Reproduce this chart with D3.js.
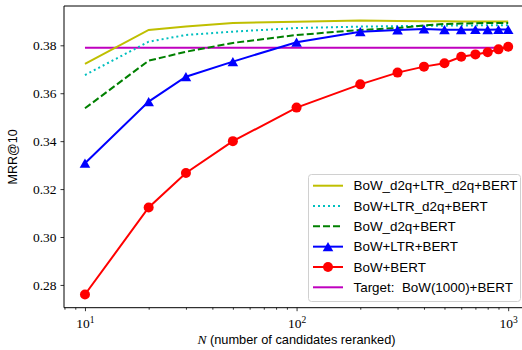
<!DOCTYPE html>
<html>
<head>
<meta charset="utf-8">
<script src="https://cdn.jsdelivr.net/npm/d3@7"></script>
<style>
  html, body { margin: 0; padding: 0; background: #fff; }
  svg { display: block; }
  .tick text { font-family: "Liberation Serif", serif; font-size: 13.5px; fill: #000; }
  .legend text { font-family: "Liberation Sans", sans-serif; font-size: 13.4px; white-space: pre; }
</style>
</head>
<body>
<svg id="svg" width="522" height="350"></svg>
<script>
const width = 522;
const height = 350;

// Data
const candidates = [10, 20, 30, 50, 100, 200, 300, 400, 500, 600, 700, 800, 900, 1000];
const bowD2qLtrD2q = [0.3722, 0.3864, 0.3878, 0.3893, 0.3898, 0.3903, 0.3901, 0.3900, 0.3900, 0.3899, 0.3899, 0.3899, 0.3899, 0.3899];
const bowLtrD2q = [0.3676, 0.3815, 0.3843, 0.3857, 0.3872, 0.3878, 0.3880, 0.3881, 0.3882, 0.3883, 0.3883, 0.3884, 0.3884, 0.3884];
const bowD2q = [0.3537, 0.3736, 0.3773, 0.3810, 0.3843, 0.3864, 0.3872, 0.3883, 0.3889, 0.3891, 0.3892, 0.3893, 0.3893, 0.3893];
const bowLtr = [0.3308, 0.3565, 0.3669, 0.3732, 0.3813, 0.3857, 0.3864, 0.3868, 0.3865, 0.3865, 0.3866, 0.3865, 0.3866, 0.3866];
const bow = [0.2760, 0.3123, 0.3267, 0.3400, 0.3540, 0.3637, 0.3686, 0.3711, 0.3725, 0.3752, 0.3762, 0.3771, 0.3783, 0.3794];
const target = 0.3790;
const targetRange = [10, 1000];

const yTicks = [0.28, 0.30, 0.32, 0.34, 0.36, 0.38];
const xTicks = [10, 100, 1000];

const series = [
  { label: 'BoW_d2q+LTR_d2q+BERT', values: bowD2qLtrD2q, color: '#bfbf00', dash: null, marker: null },
  { label: 'BoW+LTR_d2q+BERT', values: bowLtrD2q, color: '#00bfbf', dash: '2,3', marker: null },
  { label: 'BoW_d2q+BERT', values: bowD2q, color: '#008000', dash: '7,3', marker: null },
  { label: 'BoW+LTR+BERT', values: bowLtr, color: '#0000ff', dash: null, marker: 'triangle' },
  { label: 'BoW+BERT', values: bow, color: '#ff0000', dash: null, marker: 'circle' },
];
const targetSeries = { label: 'Target:  BoW(1000)+BERT', color: '#bf00bf', dash: null, marker: null };

// Plot area
const plotLeft = 64, plotTop = 6, plotBottom = 307.7, plotRight = 529.2;
const x = d3.scaleLog().domain([7.96, 1257]).range([plotLeft, plotRight]);
const y = d3.scaleLinear().domain([0.2705, 0.3964]).range([plotBottom, plotTop]);

const svg = d3.select('#svg');

const gPlot = svg.append('g');

const line = d3.line().x((d) => x(d[0])).y((d) => y(d[1]));

function triPath(w, h) {
  return `M0,${-h} L${-w},${h} L${w},${h} Z`;
}

// target line first so the red dots sit on top of it
gPlot.append('path')
  .attr('d', line(targetRange.map((n) => [n, target])))
  .attr('fill', 'none')
  .attr('stroke', targetSeries.color)
  .attr('stroke-width', 2);

series.forEach((s) => {
  const pts = candidates.map((n, i) => [n, s.values[i]]);
  gPlot.append('path')
    .attr('d', line(pts))
    .attr('fill', 'none')
    .attr('stroke', s.color)
    .attr('stroke-width', 2)
    .attr('stroke-dasharray', s.dash);
  if (s.marker === 'circle') {
    gPlot.selectAll(null).data(pts).enter()
      .append('circle')
      .attr('cx', (d) => x(d[0]))
      .attr('cy', (d) => y(d[1]))
      .attr('r', 5)
      .attr('fill', s.color);
  } else if (s.marker === 'triangle') {
    gPlot.selectAll(null).data(pts).enter()
      .append('path')
      .attr('d', triPath(5.3, 4.6))
      .attr('transform', (d) => `translate(${x(d[0])},${y(d[1])})`)
      .attr('fill', s.color);
  }
});

// Axes
const minorTicks = d3.range(8, 10).concat(d3.range(20, 100, 10), d3.range(200, 1000, 100), [2000]);
const xMinor = svg.append('g')
  .attr('transform', `translate(0,${plotBottom})`)
  .call(d3.axisBottom(x).tickValues(minorTicks).tickSize(2).tickFormat(''));
xMinor.select('.domain').remove();
xMinor.selectAll('line').attr('stroke-width', 0.8);

const xMajor = svg.append('g')
  .attr('transform', `translate(0,${plotBottom})`)
  .call(d3.axisBottom(x).tickValues(xTicks).tickSize(3.5).tickFormat(''));
xMajor.select('.domain').remove();
xMajor.selectAll('.tick line').attr('stroke-width', 0.8);
xMajor.selectAll('.tick').append('text')
  .attr('y', 20)
  .attr('text-anchor', 'middle')
  .attr('fill', '#000')
  .each(function (d) {
    const t = d3.select(this);
    t.append('tspan').text('10').attr('font-size', '13.5px');
    t.append('tspan').text(String(Math.round(Math.log10(d))))
      .attr('font-size', '9.5px').attr('dy', -5);
  });

const yAxis = svg.append('g')
  .attr('transform', `translate(${plotLeft},0)`)
  .call(d3.axisLeft(y).tickValues(yTicks).tickSize(3.5).tickPadding(4).tickFormat(d3.format('.2f')));
yAxis.select('.domain').remove();
yAxis.selectAll('.tick line').attr('stroke-width', 0.8);

// Frame (right spine falls outside the picture)
svg.append('path')
  .attr('d', `M${plotLeft},${plotTop} H${plotRight} M${plotLeft},${plotTop} V${plotBottom} H${plotRight}`)
  .attr('fill', 'none')
  .attr('stroke', '#000')
  .attr('stroke-width', 1);

// Axis labels
svg.append('text')
  .attr('transform', `translate(17,${(plotTop + plotBottom) / 2}) rotate(-90)`)
  .attr('text-anchor', 'middle')
  .attr('font-family', 'Liberation Sans, sans-serif')
  .attr('font-size', '12.5px')
  .text('MRR@10');

const xl = svg.append('text')
  .attr('x', 296.5)
  .attr('y', 344)
  .attr('text-anchor', 'middle')
  .attr('font-family', 'Liberation Sans, sans-serif')
  .attr('font-size', '12.8px');
xl.append('tspan').text('N').attr('font-family', 'Liberation Serif, serif').attr('font-style', 'italic').attr('font-size', '13.5px');
xl.append('tspan').text(' (number of candidates reranked)');

// Legend
const legend = svg.append('g').attr('class', 'legend');
legend.append('rect')
  .attr('x', 308.5).attr('y', 174.5)
  .attr('width', 212).attr('height', 127)
  .attr('rx', 3)
  .attr('fill', '#fff').attr('fill-opacity', 0.85)
  .attr('stroke', '#d0d0d0').attr('stroke-width', 1);

const legendItems = series.concat([targetSeries]);
const rowY = d3.scaleLinear().domain([0, 5]).range([185.7, 287.3]);
legendItems.forEach((s, i) => {
  const cy = rowY(i);
  const g = legend.append('g');
  g.append('line')
    .attr('x1', 313).attr('x2', 343)
    .attr('y1', cy).attr('y2', cy)
    .attr('stroke', s.color)
    .attr('stroke-width', 2)
    .attr('stroke-dasharray', s.dash);
  if (s.marker === 'circle') {
    g.append('circle').attr('cx', 328).attr('cy', cy).attr('r', 5).attr('fill', s.color);
  } else if (s.marker === 'triangle') {
    g.append('path').attr('d', triPath(5.3, 4.6))
      .attr('transform', `translate(328,${cy})`).attr('fill', s.color);
  }
  g.append('text')
    .attr('x', 353.5).attr('y', cy + 4.7)
    .attr('fill', '#000')
    .text(s.label);
});
</script>
</body>
</html>
